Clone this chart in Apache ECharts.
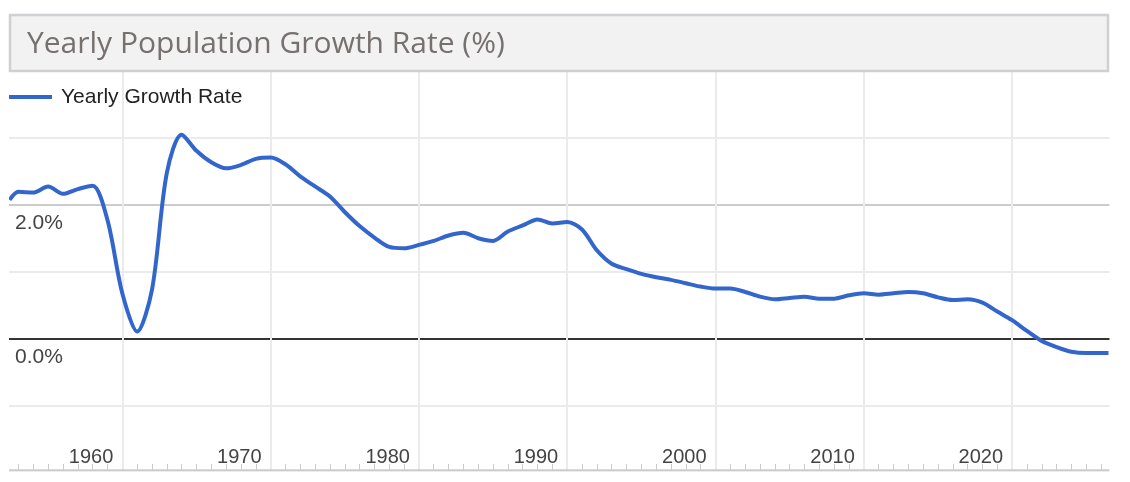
<!DOCTYPE html>
<html>
<head>
<meta charset="utf-8">
<title>Yearly Population Growth Rate</title>
<script src="https://cdn.jsdelivr.net/npm/echarts@6/dist/echarts.min.js"></script>
<style>
    html, body { margin: 0; padding: 0; background: #fff; }
    #chart { width: 1130px; height: 482px; }
</style>
</head>
<body>
<div id="chart"></div>
<script>

// data
const seriesName = 'Yearly Growth Rate';
const chartTitle = 'Yearly Population Growth Rate (%)';

const years = [
    1952.4, 1953, 1954, 1955, 1956, 1957, 1958, 1959,
    1960, 1961, 1962, 1963, 1964, 1965, 1966, 1967, 1968, 1969,
    1970, 1971, 1972, 1973, 1974, 1975, 1976, 1977, 1978, 1979,
    1980, 1981, 1982, 1983, 1984, 1985, 1986, 1987, 1988, 1989,
    1990, 1991, 1992, 1993, 1994, 1995, 1996, 1997, 1998, 1999,
    2000, 2001, 2002, 2003, 2004, 2005, 2006, 2007, 2008, 2009,
    2010, 2011, 2012, 2013, 2014, 2015, 2016, 2017, 2018, 2019,
    2020, 2021, 2022, 2023, 2024, 2025, 2026, 2026.5
];

const growthRate = [
    2.07, 2.19, 2.18, 2.27, 2.16, 2.23, 2.28, 1.77,
    0.68, 0.11, 0.73, 2.47, 3.04, 2.80, 2.63, 2.54, 2.59, 2.68,
    2.70, 2.60, 2.42, 2.27, 2.12, 1.89, 1.68, 1.51, 1.37, 1.35,
    1.40, 1.46, 1.54, 1.58, 1.50, 1.46, 1.60, 1.69, 1.78, 1.72,
    1.74, 1.63, 1.32, 1.12, 1.04, 0.97, 0.92, 0.88, 0.83, 0.78,
    0.75, 0.75, 0.70, 0.63, 0.59, 0.61, 0.63, 0.60, 0.60, 0.65,
    0.68, 0.66, 0.68, 0.70, 0.68, 0.62, 0.58, 0.59, 0.54, 0.41,
    0.28, 0.12, -0.03, -0.12, -0.19, -0.21, -0.21, -0.21
];

// y ticks that get a label
const labelledTicks = [0, 2];

document.addEventListener("DOMContentLoaded", function () {

    let el = document.getElementById('chart');
    let chart = echarts.init(el, null, { renderer: 'canvas' });

    let points = years.map((y, i) => [y, growthRate[i]]);

    chart.setOption({
        animation: false,
        backgroundColor: '#fff',
        grid: {
            left: -26,
            right: -30.4,
            top: 70.2,
            bottom: 8.6,
            outerBoundsMode: 'none',
            containLabel: false
        },
        legend: {
            data: [seriesName],
            left: 9,
            top: 86.5,
            padding: 0,
            icon: 'rect',
            itemWidth: 43,
            itemHeight: 4,
            textStyle: {
                fontFamily: 'Liberation Sans, Arial, sans-serif',
                fontSize: 21,
                color: '#222',
                padding: [0, 0, 0, 4]
            }
        },
        xAxis: {
            type: 'value',
            min: 1950,
            max: 2030,
            interval: 10,
            offset: -3.4,
            axisLine: {
                onZero: false,
                lineStyle: { color: '#cccccc', width: 2.5 }
            },
            axisTick: { show: false, inside: true },
            minorTick: {
                show: true,
                splitNumber: 10,
                length: 6,
                lineStyle: { color: '#cccccc', width: 1 }
            },
            splitLine: {
                show: true,
                lineStyle: { color: '#ebebeb', width: 2 }
            },
            axisLabel: {
                inside: true,
                margin: 13,
                align: 'right',
                verticalAlign: 'middle',
                padding: [0, 9, 0, 0],
                fontFamily: 'Liberation Sans, Arial, sans-serif',
                fontSize: 20,
                color: '#444',
                formatter: function (v) {
                    if (v < 1955 || v > 2025) return '';
                    return String(v);
                }
            }
        },
        yAxis: {
            type: 'value',
            min: -2,
            max: 4,
            interval: 1,
            axisLine: { show: false },
            axisTick: { show: false },
            splitLine: {
                show: true,
                lineStyle: {
                    width: 2,
                    color: ['rgba(0,0,0,0)', '#ebebeb', '#333333', '#ebebeb', '#cccccc', '#ebebeb', 'rgba(0,0,0,0)']
                }
            },
            axisLabel: {
                inside: true,
                margin: 41,
                align: 'left',
                verticalAlign: 'top',
                padding: [8, 0, 0, 0],
                fontFamily: 'Liberation Sans, Arial, sans-serif',
                fontSize: 21,
                color: '#444',
                formatter: function (v) {
                    return labelledTicks.indexOf(v) >= 0 ? v.toFixed(1) + '%' : '';
                }
            }
        },
        series: [
            {
                name: seriesName,
                type: 'line',
                data: points,
                smooth: 0.3,
                showSymbol: false,
                clip: true,
                lineStyle: { color: '#3366cc', width: 4 },
                itemStyle: { color: '#3366cc' }
            }
        ],
        graphic: [
            // white covers for the bits of grid outside the plot
            { type: 'rect', z: 50, silent: true, shape: { x: 0, y: 60, width: 9, height: 422 }, style: { fill: '#fff' } },
            { type: 'rect', z: 50, silent: true, shape: { x: 1109.5, y: 60, width: 21, height: 422 }, style: { fill: '#fff' } },
            { type: 'rect', z: 50, silent: true, shape: { x: 0, y: 471.5, width: 1130, height: 11 }, style: { fill: '#fff' } },
            // title box
            {
                type: 'rect', z: 60, silent: true,
                shape: { x: 10, y: 15, width: 1098, height: 56 },
                style: { fill: '#f2f2f2', stroke: '#d0d0d4', lineWidth: 2.5 }
            },
            {
                type: 'text', z: 61, silent: true,
                x: 27, y: 44.5,
                style: {
                    text: chartTitle,
                    font: '30px "Open Sans"',
                    fill: '#76706f',
                    align: 'left',
                    verticalAlign: 'middle'
                }
            }
        ]
    });

});
</script>
</body>
</html>
